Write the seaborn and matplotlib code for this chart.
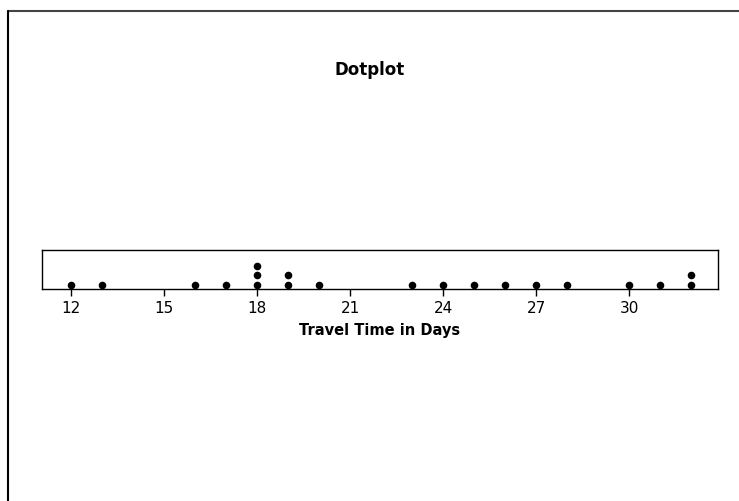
import pandas as pd
import seaborn as sns
from matplotlib import pyplot as plt
from matplotlib.lines import Line2D

# travel time values
days = [12, 13, 16, 17, 18, 18, 18, 19, 19, 20,
        23, 24, 25, 26, 27, 28, 30, 31, 32, 32]
tick_vals = [12, 15, 18, 21, 24, 27, 30]

# stack level for each dot (1 = bottom row)
df = pd.DataFrame({"Days": days})
df["Level"] = df.groupby("Days").cumcount() + 1

sns.set_style("white")
plt.rcParams["font.family"] = ["DejaVu Sans"]
plt.rcParams["text.color"] = "black"
plt.rcParams["xtick.color"] = "black"
plt.rcParams["axes.labelcolor"] = "black"

fig = plt.figure(figsize=(7.39, 5.02), dpi=100)
ax = fig.add_axes([0.0568, 0.4223, 0.9148, 0.0777])

sns.scatterplot(data=df, x="Days", y="Level", ax=ax, color="black",
                s=30, edgecolor="black", linewidth=0, legend=False)

ax.set_xlim(11.06, 32.87)
ax.set_ylim(0.5, 4.83)
ax.set_xticks(tick_vals)
ax.set_yticks([])
ax.tick_params(axis="x", direction="out", length=5, width=1, colors="black",
               labelsize=11, pad=3, bottom=True)
for s in ax.spines.values():
    s.set_color("black")
    s.set_linewidth(1)
ax.set_ylabel("")
ax.set_xlabel("Travel Time in Days", fontsize=10.5, fontweight="bold",
              labelpad=5, color="black")

fig.text(0.5, 0.86, "Dotplot", ha="center", va="center",
         fontsize=12, fontweight="bold", color="black")

# outer frame lines (top and left only)
fig.add_artist(Line2D([0.011, 1.0], [0.976, 0.976], transform=fig.transFigure,
                      color="#444444", linewidth=1.5))
fig.add_artist(Line2D([0.011, 0.011], [0.0, 0.976], transform=fig.transFigure,
                      color="black", linewidth=1.5))

fig.savefig("out.png", dpi=100)
